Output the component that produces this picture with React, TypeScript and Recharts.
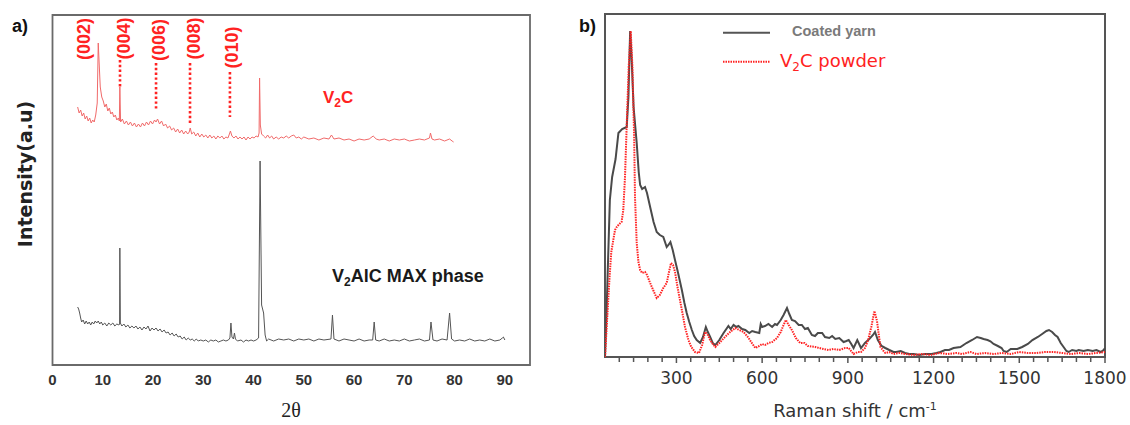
import React from 'react';
import { LineChart, Line, XAxis, YAxis, ReferenceArea, ReferenceLine, ReferenceDot, Legend } from 'recharts';

// ---------- Panel a: XRD ----------
const xrdTicks = [0, 10, 20, 30, 40, 50, 60, 70, 80, 90];

const v2cTheta = [5, 5.3, 5.6, 5.9, 6.2, 6.5, 6.8, 7.1, 7.4, 7.7, 8.0, 8.3, 8.6, 8.9, 9.1, 9.3, 9.5, 9.8, 10.1, 10.4, 10.7, 11.0, 11.3, 11.6, 11.9, 12.2, 12.5, 12.8, 13.1, 13.3, 13.4, 13.55, 13.9, 14.3, 14.7, 15.1, 15.5, 15.9, 16.3, 16.7, 17.1, 17.5, 17.9, 18.3, 18.7, 19.1, 19.5, 19.9, 20.3, 20.6, 20.9, 21.3, 21.7, 22.1, 22.5, 22.9, 23.3, 23.7, 24.1, 24.5, 24.9, 25.3, 25.7, 26.1, 26.5, 26.9, 27.2, 27.4, 27.7, 28.1, 28.5, 28.9, 29.3, 29.7, 30.1, 30.5, 30.9, 31.3, 31.7, 32.1, 32.5, 32.9, 33.3, 33.7, 34.1, 34.5, 34.9, 35.2, 35.4, 35.7, 36.1, 36.5, 36.9, 37.3, 37.7, 38.1, 38.5, 38.9, 39.3, 39.7, 40.1, 40.5, 40.9, 41.1, 41.2, 41.35, 41.6, 42.0, 42.4, 42.8, 43.2, 43.6, 44, 44.5, 45, 45.5, 46, 46.5, 47, 47.5, 48, 48.5, 49, 49.5, 50, 51, 52, 53, 54, 55, 55.5, 56, 57, 58, 59, 60, 61, 62, 63, 63.8, 64.4, 65, 66, 67, 68, 69, 70, 71, 72, 73, 74, 75.0, 75.2, 75.5, 76, 77, 78, 79, 79.5, 79.8];
const v2cIntensity = [258, 252, 255, 249, 252, 246, 249, 244, 247, 242, 245, 243, 250, 262, 322, 300, 278, 268, 264, 258, 261, 254, 257, 251, 253, 248, 250, 245, 247, 244, 278, 243, 246, 241, 244, 240, 243, 239, 242, 238, 241, 238, 242, 239, 243, 240, 244, 241, 245, 243, 246, 241, 244, 239, 241, 237, 239, 235, 237, 233, 236, 232, 235, 231, 234, 231, 233, 237, 231, 233, 229, 232, 228, 231, 228, 230, 227, 230, 227, 229, 226, 229, 227, 229, 226, 228, 227, 231, 234, 229, 227, 229, 226, 228, 226, 228, 225, 228, 226, 228, 227, 229, 228, 232, 287, 240, 231, 229, 227, 230, 227, 229, 226, 228, 226, 228, 227, 229, 227, 229, 230, 227, 228, 226, 228, 226, 227, 225, 227, 226, 230, 226, 227, 225, 226, 224, 226, 225, 226, 229, 226, 225, 226, 224, 226, 225, 226, 224, 225, 226, 225, 227, 232, 226, 225, 226, 224, 226, 224, 223];

const maxTheta = [5, 5.2, 5.4, 5.6, 5.8, 6.1, 6.4, 6.7, 7.0, 7.3, 7.6, 7.9, 8.2, 8.5, 8.8, 9.1, 9.4, 9.7, 10.0, 10.4, 10.8, 11.2, 11.6, 12.0, 12.4, 12.8, 13.2, 13.35, 13.4, 13.5, 13.8, 14.2, 14.6, 15.0, 15.4, 15.8, 16.2, 16.6, 17.0, 17.4, 17.8, 18.2, 18.6, 19.0, 19.4, 19.8, 20.2, 20.6, 21.0, 21.4, 21.8, 22.2, 22.6, 23.0, 23.4, 23.8, 24.2, 24.6, 25.0, 25.4, 25.8, 26.2, 26.6, 27.0, 27.4, 27.8, 28.2, 28.6, 29.0, 29.5, 30, 30.5, 31, 31.5, 32, 32.5, 33, 33.5, 34, 34.5, 35.0, 35.3, 35.5, 35.7, 36.0, 36.2, 36.4, 36.8, 37.5, 38, 38.5, 39, 39.5, 40, 40.5, 41.0, 41.3, 41.6, 42, 42.3, 42.6, 43, 44, 45, 46, 47, 48, 49, 50, 51, 52, 53, 54, 55.4, 55.7, 56.0, 57, 58, 59, 60, 61, 62, 63, 63.7, 64, 64.3, 65, 66, 67, 68, 69, 70, 71, 72, 73, 74, 75.0, 75.3, 75.7, 76.5, 77.5, 78.5, 79, 79.4, 80, 81, 82, 83, 84, 85, 86, 87, 88, 89, 89.5, 89.7, 90];
const maxIntensity = [58, 56, 52, 47, 43, 45, 41, 44, 41, 43, 40, 43, 41, 44, 42, 44, 41, 43, 40, 42, 39, 42, 40, 42, 39, 41, 40, 41, 117, 42, 39, 41, 38, 40, 37, 39, 37, 39, 36, 38, 35, 38, 36, 39, 34, 37, 35, 37, 34, 36, 33, 35, 32, 33, 30, 32, 29, 31, 28, 29, 26, 28, 25, 27, 25, 26, 24, 26, 24, 25, 24, 25, 23, 25, 24, 25, 23, 24, 25, 24, 25, 27, 42, 28, 26, 32, 26, 24, 25, 23, 25, 24, 25, 24, 25, 27, 204, 60, 52, 30, 24, 26, 24, 26, 25, 26, 24, 26, 25, 26, 24, 26, 25, 26, 50, 26, 24, 26, 25, 24, 26, 24, 25, 25, 43, 25, 24, 26, 24, 25, 24, 26, 24, 25, 26, 24, 25, 43, 25, 24, 26, 25, 52, 26, 24, 25, 24, 26, 24, 25, 24, 26, 24, 25, 27, 28, 25];

const peakLabels = ['(002)', '(004)', '(006)', '(008)', '(010)'];
const peakLabelTheta = [6.33, 14.23, 21.2, 28.16, 35.66];
const peakLabelLevel = [326, 326.5, 325, 326.5, 317.5];

const guideTheta = [13.43, 20.6, 27.36, 35.3];
const guideTop = [305, 302, 302, 293];
const guideBottom = [278, 255, 240, 248];

// ---------- Panel b: Raman ----------
const ramanTicks = [100, 150, 200, 250, 300, 350, 400, 450, 500, 550, 600, 650, 700, 750, 800, 850, 900, 950, 1000, 1050, 1100, 1150, 1200, 1250, 1300, 1350, 1400, 1450, 1500, 1550, 1600, 1650, 1700, 1750, 1800];
const ramanMajor = [300, 600, 900, 1200, 1500, 1800];

const yarnShift = [50, 55, 60, 67, 75, 87, 97, 110, 126, 132, 138, 143, 150, 161, 168, 173, 180, 190, 197, 208, 220, 231, 242, 254, 266, 272, 279, 287, 295, 305, 319, 328, 336, 345, 354, 362, 371, 383, 393, 403, 410, 418, 427, 436, 450, 465, 482, 490, 500, 510, 517, 530, 541, 555, 565, 576, 590, 595, 600, 610, 622, 635, 645, 652, 665, 675, 687, 695, 704, 715, 728, 739, 750, 760, 774, 785, 795, 810, 820, 835, 845, 856, 870, 885, 895, 903, 912, 920, 933, 946, 960, 975, 988, 995, 1005, 1018, 1031, 1045, 1060, 1069, 1085, 1100, 1115, 1130, 1150, 1170, 1193, 1210, 1224, 1240, 1254, 1270, 1294, 1315, 1335, 1352, 1365, 1375, 1389, 1399, 1410, 1425, 1438, 1445, 1456, 1470, 1482, 1493, 1510, 1530, 1546, 1565, 1580, 1595, 1604, 1615, 1625, 1634, 1645, 1655, 1665, 1673, 1685, 1700, 1708, 1725, 1740, 1757, 1770, 1785, 1795, 1800];
const yarnIntensity = [0, 40, 90, 157, 180, 198, 224, 228, 230, 260, 326, 300, 250, 214, 185, 172, 168, 170, 164, 150, 135, 125, 122, 120, 110, 112, 115, 107, 97, 85, 67, 54, 44, 35, 27, 21, 17, 14, 20, 30, 25, 20, 14, 12, 17, 24, 31, 28, 32, 30, 31, 28, 27, 24, 26, 25, 24, 33, 30, 31, 33, 30, 33, 32, 37, 42, 49, 43, 37, 36, 32, 32, 28, 29, 22, 21, 24, 24, 20, 19, 21, 18, 19, 15, 16, 17, 13, 9, 17, 9, 14, 18, 22, 25, 17, 11, 9, 7, 5, 5, 6, 4, 3, 3, 2, 3, 3, 4, 5, 7, 7, 9, 10, 14, 17, 20, 19, 18, 17, 15.7, 13, 11, 9, 6, 5, 8, 8, 8, 10, 13, 17, 20, 23, 26, 27, 25, 22, 20, 14, 10, 6, 5, 7, 6, 7, 6, 7, 6, 7, 5, 7, 9];

const powderShift = [50, 58, 66, 72, 79, 85, 91, 100, 108, 114, 120, 127, 133, 140, 146, 152, 155, 161, 167, 173, 180, 190, 197, 208, 220, 231, 242, 254, 266, 274, 281, 288, 295, 305, 319, 330, 342, 352, 365, 379, 390, 400, 410, 418, 427, 436, 450, 470, 488, 506, 520, 535, 550, 564, 576, 590, 600, 610, 622, 635, 652, 665, 675, 683, 693, 704, 718, 733, 748, 760, 786, 800, 815, 833, 850, 870, 890, 903, 920, 935, 946, 960, 971, 982, 993, 1002, 1014, 1025, 1031, 1045, 1060, 1080, 1100, 1130, 1160, 1190, 1220, 1250, 1280, 1300, 1329, 1350, 1380, 1410, 1440, 1470, 1500, 1530, 1560, 1590, 1620, 1650, 1680, 1710, 1740, 1770, 1800];
const powderIntensity = [0, 40, 80, 105, 117, 127, 130, 133, 135, 147, 180, 240, 290, 326, 290, 220, 160, 114, 95, 87, 84, 85, 82, 74, 66, 59, 62, 69, 74, 85, 94, 92, 85, 68, 47, 30, 17, 10, 5, 4, 12, 25, 22, 17, 13, 10, 14, 20, 25, 29, 27, 25, 20, 14, 9, 11, 13, 12, 14, 15, 19, 25, 32, 37, 32, 27, 19, 14, 14, 11, 10, 9, 8, 7, 8, 7, 9, 9, 3, 5, 5, 9, 17, 30, 46, 36, 10, 6, 4, 5, 3, 4, 3, 2, 3, 2, 4, 3, 4, 3, 5, 3, 4, 3, 4, 3, 5, 4, 4, 5, 5, 4, 3, 4, 3, 4, 5];

const legendLabels = ['Coated yarn', 'V2C powder'];

const zip = (xs: number[], ys: number[]) => xs.map((x, i) => ({ x, y: ys[i] }));
const v2cData = zip(v2cTheta, v2cIntensity);
const maxData = zip(maxTheta, maxIntensity);
const yarnData = zip(yarnShift, yarnIntensity);
const powderData = zip(powderShift, powderIntensity);

const SANS = "'Liberation Sans', Arial, sans-serif";
const DEJAVU = "'DejaVu Sans', sans-serif";
const RED = '#ff2222';

const TickA = (p: any) => (
  <text x={p.x} y={p.y + 20} textAnchor="middle" fontFamily={SANS} fontWeight="bold" fontSize={15} fill="#333">
    {p.payload.value}
  </text>
);

const TickB = (p: any) => {
  const v = p.payload.value;
  const major = ramanMajor.includes(v);
  return (
    <g>
      <line x1={p.x} x2={p.x} y1={p.y} y2={p.y + (major ? 6 : 5)} stroke="#555" strokeWidth={1.5} />
      {major && (
        <text x={p.x} y={p.y + 27} textAnchor="middle" fontFamily={DEJAVU} fontSize={17} fill="#333">
          {v}
        </text>
      )}
    </g>
  );
};

const LegendB = () => (
  <svg width={220} height={60} style={{ overflow: 'visible' }}>
    <line x1={3} x2={50} y1={12.7} y2={12.7} stroke="#555" strokeWidth={2} />
    <text x={72} y={16} fontFamily={SANS} fontWeight="bold" fontSize={14.5} fill="#7a7a7a">{legendLabels[0]}</text>
    <line x1={3} x2={50} y1={41.7} y2={41.7} stroke={RED} strokeWidth={2} strokeDasharray="1.5 1" />
    <text x={60} y={47} fontFamily={DEJAVU} fontSize={18} fill={RED}>
      V<tspan fontSize={12} dy={4}>2</tspan><tspan dy={-4}>C powder</tspan>
    </text>
  </svg>
);

export default function App() {
  return (
    <div style={{ position: 'absolute', left: 0, top: 0, width: 1130, height: 425, background: '#fff' }}>
      <div style={{ position: 'absolute', left: 0, top: 0 }}>
        <LineChart width={560} height={425} margin={{ top: 15, right: 30, bottom: 30, left: 52.5 }}>
          <XAxis type="number" dataKey="x" domain={[0, 95]} ticks={xrdTicks} interval={0} axisLine={false} tickLine={false} tickSize={0} tickMargin={0} height={30} tick={(p: any) => <TickA {...p} />} allowDataOverflow />
          <YAxis hide type="number" domain={[0, 350]} allowDataOverflow />
          <ReferenceArea x1={0} x2={95} y1={0} y2={350} fill="none" stroke="#6a6a6a" strokeWidth={1.8} fillOpacity={0} ifOverflow="visible" />
          <Line data={maxData} dataKey="y" type="linear" stroke="#555" strokeWidth={1} dot={false} isAnimationActive={false} />
          <Line data={v2cData} dataKey="y" type="linear" stroke="#f06a6a" strokeWidth={1} dot={false} isAnimationActive={false} />
          {guideTheta.map((t, i) => (
            <ReferenceLine key={'g' + i} segment={[{ x: t, y: guideTop[i] }, { x: t, y: guideBottom[i] }]} stroke={RED} strokeWidth={2.6} strokeDasharray="2.4 2.4" ifOverflow="visible" />
          ))}
          {peakLabels.map((lab, i) => (
            <ReferenceDot key={'l' + i} x={peakLabelTheta[i]} y={peakLabelLevel[i]} r={0} ifOverflow="visible"
              shape={(p: any) => (
                <text x={p.cx} y={p.cy} transform={`rotate(-90, ${p.cx}, ${p.cy})`} textAnchor="middle" dominantBaseline="central" fontFamily={SANS} fontWeight="bold" fontSize={18} fill={RED}>{lab}</text>
              )} />
          ))}
          <ReferenceDot x={53.8} y={262} r={0} ifOverflow="visible"
            shape={(p: any) => (
              <text x={p.cx} y={p.cy} fontFamily={SANS} fontWeight="bold" fontSize={17} fill={RED}>
                V<tspan fontSize={12} dy={4}>2</tspan><tspan dy={-4}>C</tspan>
              </text>
            )} />
          <ReferenceDot x={55.6} y={83.3} r={0} ifOverflow="visible"
            shape={(p: any) => (
              <text x={p.cx} y={p.cy} fontFamily={SANS} fontWeight="bold" fontSize={18} fill="#1a1a1a">
                V<tspan fontSize={12} dy={4}>2</tspan><tspan dy={-4}>AlC MAX phase</tspan>
              </text>
            )} />
        </LineChart>
      </div>
      <div style={{ position: 'absolute', left: 560, top: 0 }}>
        <LineChart width={570} height={425} margin={{ top: 14, right: 25, bottom: 28, left: 45 }}>
          <XAxis type="number" dataKey="x" domain={[50, 1800]} ticks={ramanTicks} interval={0} axisLine={false} tickLine={false} tickSize={0} tickMargin={0} height={40} tick={(p: any) => <TickB {...p} />} allowDataOverflow />
          <YAxis hide type="number" domain={[0, 343]} allowDataOverflow />
          <ReferenceArea x1={50} x2={1800} y1={0} y2={343} fill="none" fillOpacity={0} stroke="#555" strokeWidth={2} ifOverflow="visible" />
          <Line data={yarnData} dataKey="y" name={legendLabels[0]} type="linear" stroke="#4a4a4a" strokeWidth={2} dot={false} isAnimationActive={false} />
          <Line data={powderData} dataKey="y" name={legendLabels[1]} type="linear" stroke={RED} strokeWidth={2} strokeDasharray="1.5 1" dot={false} isAnimationActive={false} />
          <Legend layout="vertical" align="center" verticalAlign="middle" wrapperStyle={{ left: 160, top: 20, width: 220, height: 60 }} content={() => <LegendB />} />
        </LineChart>
      </div>
      <svg width={1130} height={425} style={{ position: 'absolute', left: 0, top: 0, pointerEvents: 'none' }}>
        <text x={12} y={32} fontFamily={SANS} fontWeight="bold" fontSize={18} fill="#111">a)</text>
        <text x={579} y={32} fontFamily={SANS} fontWeight="bold" fontSize={18} fill="#111">b)</text>
        <text x={25} y={174} transform="rotate(-90, 25, 174)" textAnchor="middle" dominantBaseline="central" fontFamily={DEJAVU} fontWeight="bold" fontSize={19} fill="#222">Intensity(a.u)</text>
        <text x={291} y={417} textAnchor="middle" fontFamily="'Liberation Serif', 'Times New Roman', serif" fontSize={20} fill="#222">2θ</text>
        <text x={855} y={416.7} textAnchor="middle" fontFamily={DEJAVU} fontSize={18} fill="#333">
          Raman shift / cm<tspan fontSize={11} dy={-7}>-1</tspan>
        </text>
      </svg>
    </div>
  );
}
